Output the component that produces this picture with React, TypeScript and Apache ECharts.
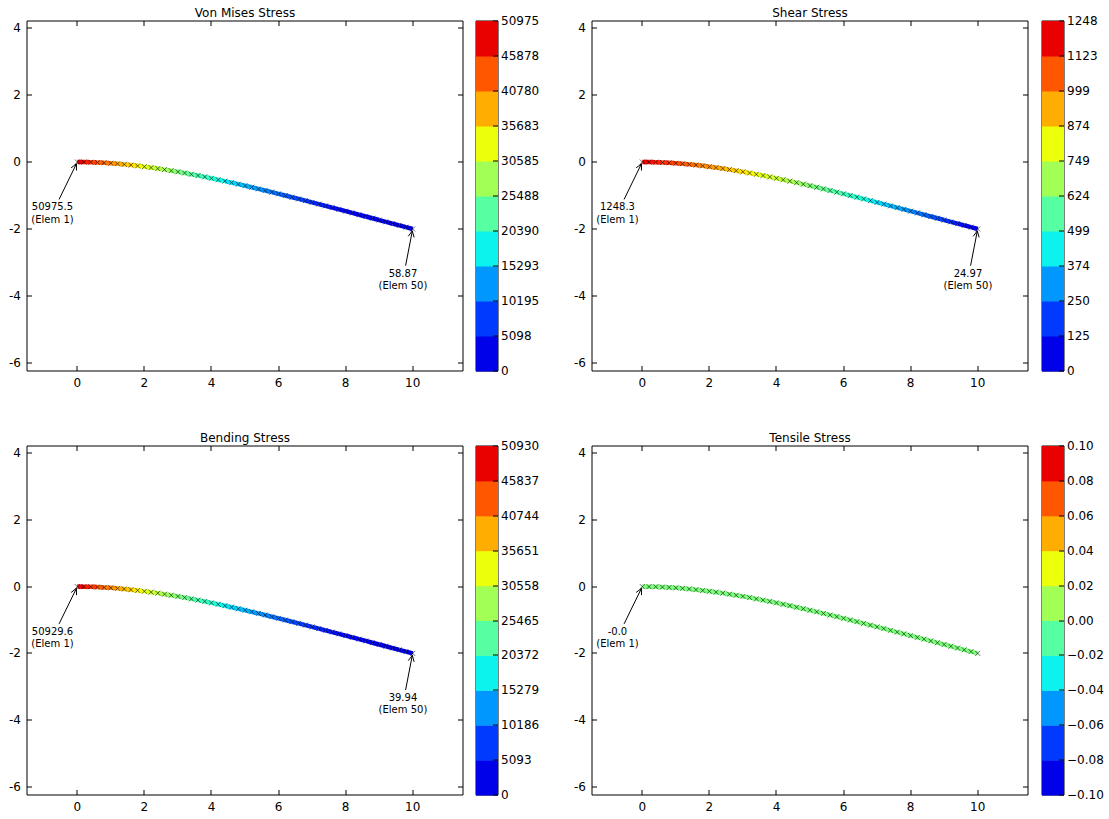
import React, { useEffect, useRef } from "react";
import * as echarts from "echarts";

// ---------- data ----------
const nodeX = [
  0, 0.2, 0.4, 0.6, 0.8, 1.0, 1.2, 1.4, 1.6, 1.8, 2.0, 2.2, 2.4, 2.6, 2.8, 3.0, 3.2, 3.4, 3.6, 3.8,
  4.0, 4.2, 4.4, 4.6, 4.8, 5.0, 5.2, 5.4, 5.6, 5.8, 6.0, 6.2, 6.4, 6.6, 6.8, 7.0, 7.2, 7.4, 7.6, 7.8,
  8.0, 8.2, 8.4, 8.6, 8.8, 9.0, 9.2, 9.4, 9.6, 9.8, 10.0,
];
const nodeY = [
  0, -0.002, -0.006, -0.014, -0.024, -0.037, -0.053, -0.071, -0.092, -0.115, -0.14, -0.167, -0.196,
  -0.227, -0.259, -0.293, -0.329, -0.367, -0.405, -0.445, -0.486, -0.529, -0.572, -0.617, -0.662,
  -0.708, -0.755, -0.803, -0.852, -0.901, -0.95, -1.001, -1.051, -1.102, -1.154, -1.205, -1.257,
  -1.31, -1.362, -1.415, -1.468, -1.521, -1.574, -1.627, -1.68, -1.733, -1.787, -1.84, -1.893,
  -1.946, -2.0,
];
const vonMises = [
  50975.5, 48959, 46983, 45048, 43153, 41299, 39486, 37714, 35982, 34291, 32641, 31032, 29463,
  27935, 26448, 25002, 23596, 22231, 20907, 19623, 18381, 17179, 16018, 14897, 13817, 12779,
  11780, 10823, 9906, 9030, 8195, 7400, 6647, 5934, 5261, 4630, 4039, 3489, 2980, 2511, 2083,
  1695, 1349, 1043, 778, 553, 369, 225, 119, 58.87,
];
const shear = [
  1248.3, 1223.3, 1198.4, 1173.4, 1148.4, 1123.5, 1098.5, 1073.5, 1048.6, 1023.6, 998.6, 973.7,
  948.7, 923.7, 898.8, 873.8, 848.8, 823.9, 798.9, 773.9, 749.0, 724.0, 699.0, 674.1, 649.1, 624.2,
  599.2, 574.2, 549.3, 524.3, 499.3, 474.4, 449.4, 424.4, 399.5, 374.5, 349.5, 324.6, 299.6, 274.6,
  249.7, 224.7, 199.7, 174.8, 149.8, 124.8, 99.9, 74.9, 49.9, 24.97,
];
const bending = [
  50929.6, 48913, 46937, 45002, 43107, 41253, 39440, 37668, 35936, 34245, 32595, 30986, 29417,
  27889, 26402, 24956, 23550, 22185, 20861, 19577, 18335, 17133, 15972, 14851, 13771, 12733,
  11734, 10777, 9860, 8984, 8149, 7354, 6601, 5888, 5215, 4584, 3993, 3443, 2934, 2465, 2037,
  1650, 1304, 998, 733, 509, 326, 183, 81, 39.94,
];
const tensile = [
  0, 0, 0, 0, 0, 0, 0, 0, 0, 0, 0, 0, 0, 0, 0, 0, 0, 0, 0, 0, 0, 0, 0, 0, 0,
  0, 0, 0, 0, 0, 0, 0, 0, 0, 0, 0, 0, 0, 0, 0, 0, 0, 0, 0, 0, 0, 0, 0, 0, 0,
];

const vonMisesRange = [0, 50975.5];
const shearRange = [0, 1248.3];
const bendingRange = [0, 50929.6];
const tensileRange = [-0.1, 0.1];

const vonMisesTicks = ["0", "5098", "10195", "15293", "20390", "25488", "30585", "35683", "40780", "45878", "50975"];
const shearTicks = ["0", "125", "250", "374", "499", "624", "749", "874", "999", "1123", "1248"];
const bendingTicks = ["0", "5093", "10186", "15279", "20372", "25465", "30558", "35651", "40744", "45837", "50930"];
const tensileTicks = ["\u22120.10", "\u22120.08", "\u22120.06", "\u22120.04", "\u22120.02", "0.00", "0.02", "0.04", "0.06", "0.08", "0.10"];

const vonMisesNotes = ["50975.5\n(Elem 1)", "58.87\n(Elem 50)"];
const shearNotes = ["1248.3\n(Elem 1)", "24.97\n(Elem 50)"];
const bendingNotes = ["50929.6\n(Elem 1)", "39.94\n(Elem 50)"];
const tensileNotes = ["-0.0\n(Elem 1)"];
// label anchor (data coords) for the Elem 1 note and the Elem 50 note
const notePositions = [[-0.74, -1.52], [9.71, -3.5]];

const panelTitles = ["Von Mises Stress", "Shear Stress", "Bending Stress", "Tensile Stress"];
const xTicks = [0, 2, 4, 6, 8, 10];
const yTicks = [-6, -4, -2, 0, 2, 4];
const xLimits = [-1.5, 11.5];
const yLimits = [-6.24, 4.21];

// ---------- styling ----------
const FONT = '"DejaVu Sans", "Liberation Sans", sans-serif';
const FS = 12;
const TICK = 5;

function interp(pts: number[][], t: number) {
  for (let i = 1; i < pts.length; i++) {
    if (t <= pts[i][0]) {
      const [x0, y0] = pts[i - 1];
      const [x1, y1] = pts[i];
      return y0 + ((t - x0) / (x1 - x0)) * (y1 - y0);
    }
  }
  return pts[pts.length - 1][1];
}
function jet(t: number) {
  t = Math.max(0, Math.min(1, t));
  const r = interp([[0, 0], [0.35, 0], [0.66, 1], [0.89, 1], [1, 0.5]], t);
  const g = interp([[0, 0], [0.125, 0], [0.375, 1], [0.64, 1], [0.91, 0], [1, 0]], t);
  const b = interp([[0, 0.5], [0.11, 1], [0.34, 1], [0.65, 0], [1, 0]], t);
  return `rgb(${Math.round(r * 255)},${Math.round(g * 255)},${Math.round(b * 255)})`;
}

const layouts = [
  { left: 27, top: 21, width: 436, height: 350, cbLeft: 476 },
  { left: 592, top: 21, width: 436, height: 350, cbLeft: 1042 },
  { left: 27, top: 446, width: 436, height: 349, cbLeft: 476 },
  { left: 592, top: 446, width: 436, height: 349, cbLeft: 1042 },
];

const panels = [
  { title: panelTitles[0], values: vonMises, range: vonMisesRange, ticks: vonMisesTicks, notes: vonMisesNotes },
  { title: panelTitles[1], values: shear, range: shearRange, ticks: shearTicks, notes: shearNotes },
  { title: panelTitles[2], values: bending, range: bendingRange, ticks: bendingTicks, notes: bendingNotes },
  { title: panelTitles[3], values: tensile, range: tensileRange, ticks: tensileTicks, notes: tensileNotes },
];

function titleGraphics() {
  return panels.map((pn, p) => {
    const L = layouts[p];
    return {
      type: "text",
      x: L.left + L.width / 2,
      y: L.top - 8.5,
      z: 20,
      style: { text: pn.title, textAlign: "center", textVerticalAlign: "middle", align: "center", verticalAlign: "middle", font: `${FS}px ${FONT}`, fill: "#000" },
    };
  });
}

function buildOption() {
  const grid: any[] = [];
  const xAxis: any[] = [];
  const yAxis: any[] = [];
  const series: any[] = [];

  const labelStyle = { color: "#000", fontSize: FS, fontFamily: FONT };

  panels.forEach((pn, p) => {
    const L = layouts[p];
    grid.push({ left: L.left, top: L.top, width: L.width, height: L.height, show: true, borderColor: "#000", borderWidth: 1, backgroundColor: "transparent", containLabel: false });
    grid.push({ left: L.cbLeft, top: L.top, width: 22, height: L.height, show: true, borderColor: "#000", borderWidth: 1, backgroundColor: "transparent", containLabel: false });

    xAxis.push({
      type: "value", min: xLimits[0], max: xLimits[1], gridIndex: 2 * p, position: "bottom",
      axisLine: { show: false, onZero: false }, splitLine: { show: false }, axisTick: { show: false },
      axisLabel: { show: true, customValues: xTicks, margin: 6, ...labelStyle },
    });
    xAxis.push({ type: "value", gridIndex: 2 * p + 1, min: 0, max: 1, show: false });

    yAxis.push({
      type: "value", min: yLimits[0], max: yLimits[1], gridIndex: 2 * p, position: "left",
      axisLine: { show: false, onZero: false }, splitLine: { show: false }, axisTick: { show: false },
      axisLabel: { show: true, customValues: yTicks, margin: 6, ...labelStyle },
    });
    yAxis.push({
      type: "value", gridIndex: 2 * p + 1, min: 0, max: 10, interval: 1, position: "right",
      axisLine: { show: false, onZero: false }, splitLine: { show: false }, axisTick: { show: false },
      axisLabel: { show: true, margin: 3, formatter: (v: number) => pn.ticks[Math.round(v)], ...labelStyle },
    });

    const xi = 2 * p;
    const yi = 2 * p;
    const [lo, hi] = pn.range;
    const segData = pn.values.map((v, i) => [nodeX[i], nodeY[i], nodeX[i + 1], nodeY[i + 1], v]);

    series.push({
      type: "custom", xAxisIndex: xi, yAxisIndex: yi, z: 2, silent: true,
      data: segData,
      encode: { x: [0, 2], y: [1, 3] },
      renderItem: (params: any, api: any) => {
        const a = api.coord([api.value(0), api.value(1)]);
        const b = api.coord([api.value(2), api.value(3)]);
        const t = (api.value(4) - lo) / (hi - lo);
        return {
          type: "line",
          shape: { x1: a[0], y1: a[1], x2: b[0], y2: b[1] },
          style: { stroke: jet((1 + 9 * t) / 11), lineWidth: 4.5, lineCap: "butt" },
        };
      },
    });

    series.push({
      type: "scatter", xAxisIndex: xi, yAxisIndex: yi, z: 3, silent: true,
      data: nodeX.map((x, i) => [x, nodeY[i]]),
      symbol: "path://M0,0L10,10M10,0L0,10",
      symbolSize: 5,
      itemStyle: { color: "transparent", borderColor: "rgba(0,0,0,0.7)", borderWidth: 1 },
    });

    const last = nodeX.length - 1;
    const targets = [[nodeX[0], nodeY[0]], [nodeX[last], nodeY[last]]];
    const notes = pn.notes.map((txt, k) => ({ text: txt, pos: notePositions[k], target: targets[k] }));
    series.push({
      type: "custom", xAxisIndex: xi, yAxisIndex: yi, z: 4, silent: true,
      data: notes.map((n) => [n.pos[0], n.pos[1], n.target[0], n.target[1]]),
      encode: { x: [0, 2], y: [1, 3] },
      renderItem: (params: any, api: any) => {
        const n = notes[params.dataIndex];
        const c = api.coord(n.pos);
        const pt = api.coord(n.target);
        const dx = pt[0] - c[0];
        const dy = pt[1] - c[1];
        const len = Math.hypot(dx, dy);
        const ux = dx / len;
        const uy = dy / len;
        const hw = 22;
        const hh = 13.5;
        const s = Math.min(Math.abs(dx) > 1e-6 ? hw / Math.abs(dx) : Infinity, Math.abs(dy) > 1e-6 ? hh / Math.abs(dy) : Infinity);
        const sx = c[0] + dx * s;
        const sy = c[1] + dy * s;
        const ex = pt[0] - ux * 2;
        const ey = pt[1] - uy * 2;
        const hl = 6;
        const hwid = 3;
        const bx = ex - ux * hl;
        const by = ey - uy * hl;
        const nx = -uy;
        const ny = ux;
        return {
          type: "group",
          children: [
            {
              type: "text",
              style: {
                text: n.text, x: c[0], y: c[1], align: "center", verticalAlign: "middle",
                textAlign: "center", textVerticalAlign: "middle",
                font: `10px ${FONT}`, fill: "#000", lineHeight: 12.3,
              },
            },
            { type: "line", shape: { x1: sx, y1: sy, x2: ex, y2: ey }, style: { stroke: "#000", lineWidth: 1 } },
            {
              type: "polyline",
              shape: { points: [[bx + nx * hwid, by + ny * hwid], [ex, ey], [bx - nx * hwid, by - ny * hwid]] },
              style: { stroke: "#000", fill: null, lineWidth: 1 },
            },
          ],
        };
      },
    });

    // colour bar bands
    series.push({
      type: "custom", xAxisIndex: 2 * p + 1, yAxisIndex: 2 * p + 1, z: 1, silent: true,
      data: pn.ticks.slice(0, 10).map((_, i) => [0, i, 1, i + 1]),
      encode: { x: [0, 2], y: [1, 3] },
      renderItem: (params: any, api: any) => {
        const i = params.dataIndex;
        const a = api.coord([0, i]);
        const b = api.coord([1, i + 1]);
        return {
          type: "rect",
          shape: { x: a[0], y: b[1], width: b[0] - a[0], height: a[1] - b[1] + 0.5 },
          style: { fill: jet((i + 1) / 11) },
        };
      },
    });
  });

  return { animation: false, backgroundColor: "#fff", grid, xAxis, yAxis, series, graphic: titleGraphics() };
}

// tick marks placed through the chart's own axis scales (convertToPixel), drawn as thin rects
function tickGraphics(chart: any) {
  const out: any[] = [];
  const rect = (x: number, y: number, w: number, h: number) => ({ type: "rect", z: 50, silent: true, shape: { x, y, width: w, height: h }, style: { fill: "#000" } });
  panels.forEach((pn, p) => {
    const finder = { xAxisIndex: 2 * p, yAxisIndex: 2 * p };
    xTicks.forEach((v) => {
      const b = chart.convertToPixel(finder, [v, yLimits[0]]);
      const t = chart.convertToPixel(finder, [v, yLimits[1]]);
      const x = Math.round(b[0]);
      out.push(rect(x - 0.5, b[1] - TICK, 1, TICK));
      out.push(rect(x - 0.5, t[1], 1, TICK));
    });
    yTicks.forEach((v) => {
      const l = chart.convertToPixel(finder, [xLimits[0], v]);
      const r = chart.convertToPixel(finder, [xLimits[1], v]);
      const y = Math.round(l[1]);
      out.push(rect(l[0], y - 0.5, TICK, 1));
      out.push(rect(r[0] - TICK, y - 0.5, TICK, 1));
    });
    const cbFinder = { xAxisIndex: 2 * p + 1, yAxisIndex: 2 * p + 1 };
    pn.ticks.forEach((_, i) => {
      const r = chart.convertToPixel(cbFinder, [1, i]);
      const y = Math.round(r[1]);
      out.push(rect(r[0] - TICK, y - 0.5, TICK, 1));
    });
  });
  return out;
}

export default function App() {
  const ref = useRef<HTMLDivElement>(null);
  useEffect(() => {
    document.body.style.margin = "0";
    if (!ref.current) return;
    const chart = echarts.init(ref.current, undefined, { renderer: "svg" });
    chart.setOption(buildOption() as any);
    chart.setOption({ graphic: [...titleGraphics(), ...tickGraphics(chart)] } as any);
    return () => chart.dispose();
  }, []);
  return <div ref={ref} style={{ width: 1109, height: 819, background: "#fff" }} />;
}
